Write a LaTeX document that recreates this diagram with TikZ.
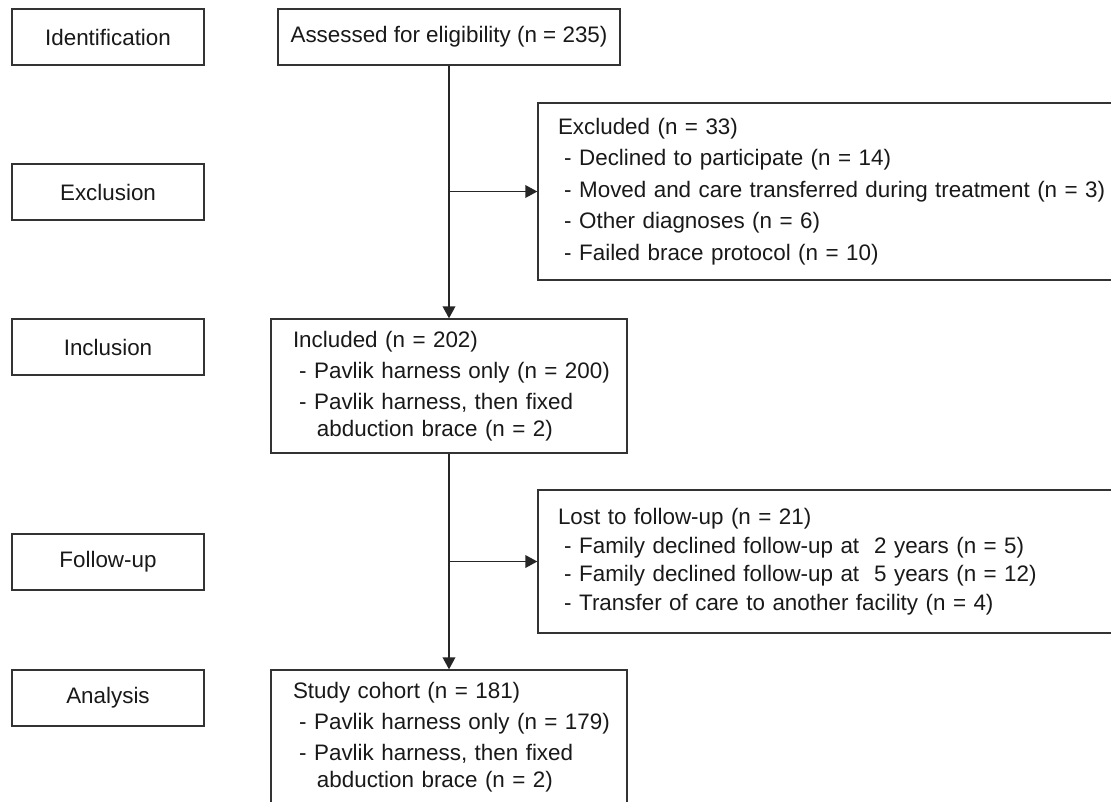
\documentclass[tikz,border=0pt]{standalone}
\usepackage{fontspec}
\setmainfont{Liberation Sans}
\usetikzlibrary{arrows.meta}
\newcommand\itm{\hspace*{0.278em}- }
\begin{document}
\begin{tikzpicture}[x=0.75pt,y=-0.75pt,
  every node/.style={font=\fontsize{16.8pt}{23.25pt}\selectfont, text=black!90},
  box/.style={draw=black!80, line width=1pt, rectangle},
  stage/.style={box, minimum width=144pt, minimum height=42pt, inner sep=0pt},
  listbox/.style={box, align=left, inner ysep=0pt},
  conn/.style={draw=black!85, line width=1pt, -{Triangle[length=9pt,width=9.5pt]}},
]
\useasboundingbox (0,0) rectangle (1111,801);
\fill[white] (0,0) rectangle (1111,801);
\clip (0,0) rectangle (1111,801);

% stage labels
\node[stage] (ident) at (108,37) {Identification};
\node[stage] (exclst) at (108,192) {Exclusion};
\node[stage] (inclst) at (108,347) {Inclusion};
\node[stage] (follow) at (108,562) {Follow-up};
\node[stage] (anal) at (108,698) {Analysis};

% main flow
\node[box, minimum width=256.5pt, minimum height=42pt, inner sep=0pt] (assess) at (449,37) {Assessed for eligibility (n = 235)};

\node[listbox, minimum width=444pt, minimum height=132.75pt, text width=414pt, inner xsep=15pt,
  font=\fontsize{16.8pt}{23.6pt}\selectfont] (excl) at (834,191.5)
{\mbox{Excluded (n = 33)}\\
\mbox{\itm Declined to participate (n = 14)}\\
\mbox{\itm Moved and care transferred during treatment (n = 3)}\\
\mbox{\itm Other diagnoses (n = 6)}\\
\mbox{\itm Failed brace protocol (n = 10)}};

\node[listbox, minimum width=267pt, minimum height=100.5pt, text width=234pt, inner xsep=16.5pt] (incl) at (449,386)
{\mbox{Included (n = 202)}\\
\mbox{\itm Pavlik harness only (n = 200)}\\
\mbox{\itm Pavlik harness, then fixed}\\[-3pt]
\mbox{\hspace*{1.07em}abduction brace (n = 2)}};

\node[listbox, minimum width=444pt, minimum height=107.25pt, text width=414pt, inner xsep=15pt,
  font=\fontsize{16.8pt}{21.4pt}\selectfont] (lost) at (834,561.5)
{\mbox{Lost to follow-up (n = 21)}\\
\mbox{\itm Family declined follow-up at \ 2 years (n = 5)}\\
\mbox{\itm Family declined follow-up at \ 5 years (n = 12)}\\
\mbox{\itm Transfer of care to another facility (n = 4)}};

\node[listbox, minimum width=267pt, minimum height=100.5pt, text width=234pt, inner xsep=16.5pt] (study) at (449,737)
{\mbox{Study cohort (n = 181)}\\
\mbox{\itm Pavlik harness only (n = 179)}\\
\mbox{\itm Pavlik harness, then fixed}\\[-3pt]
\mbox{\hspace*{1.07em}abduction brace (n = 2)}};

% connectors
\draw[conn] (assess.south) -- (incl.north);
\coordinate (b1) at (assess.south |- excl.west);
\draw[conn] (b1) -- (excl.west);
\draw[conn] (incl.south) -- (study.north);
\coordinate (b2) at (incl.south |- lost.west);
\draw[conn] (b2) -- (lost.west);
\end{tikzpicture}
\end{document}
